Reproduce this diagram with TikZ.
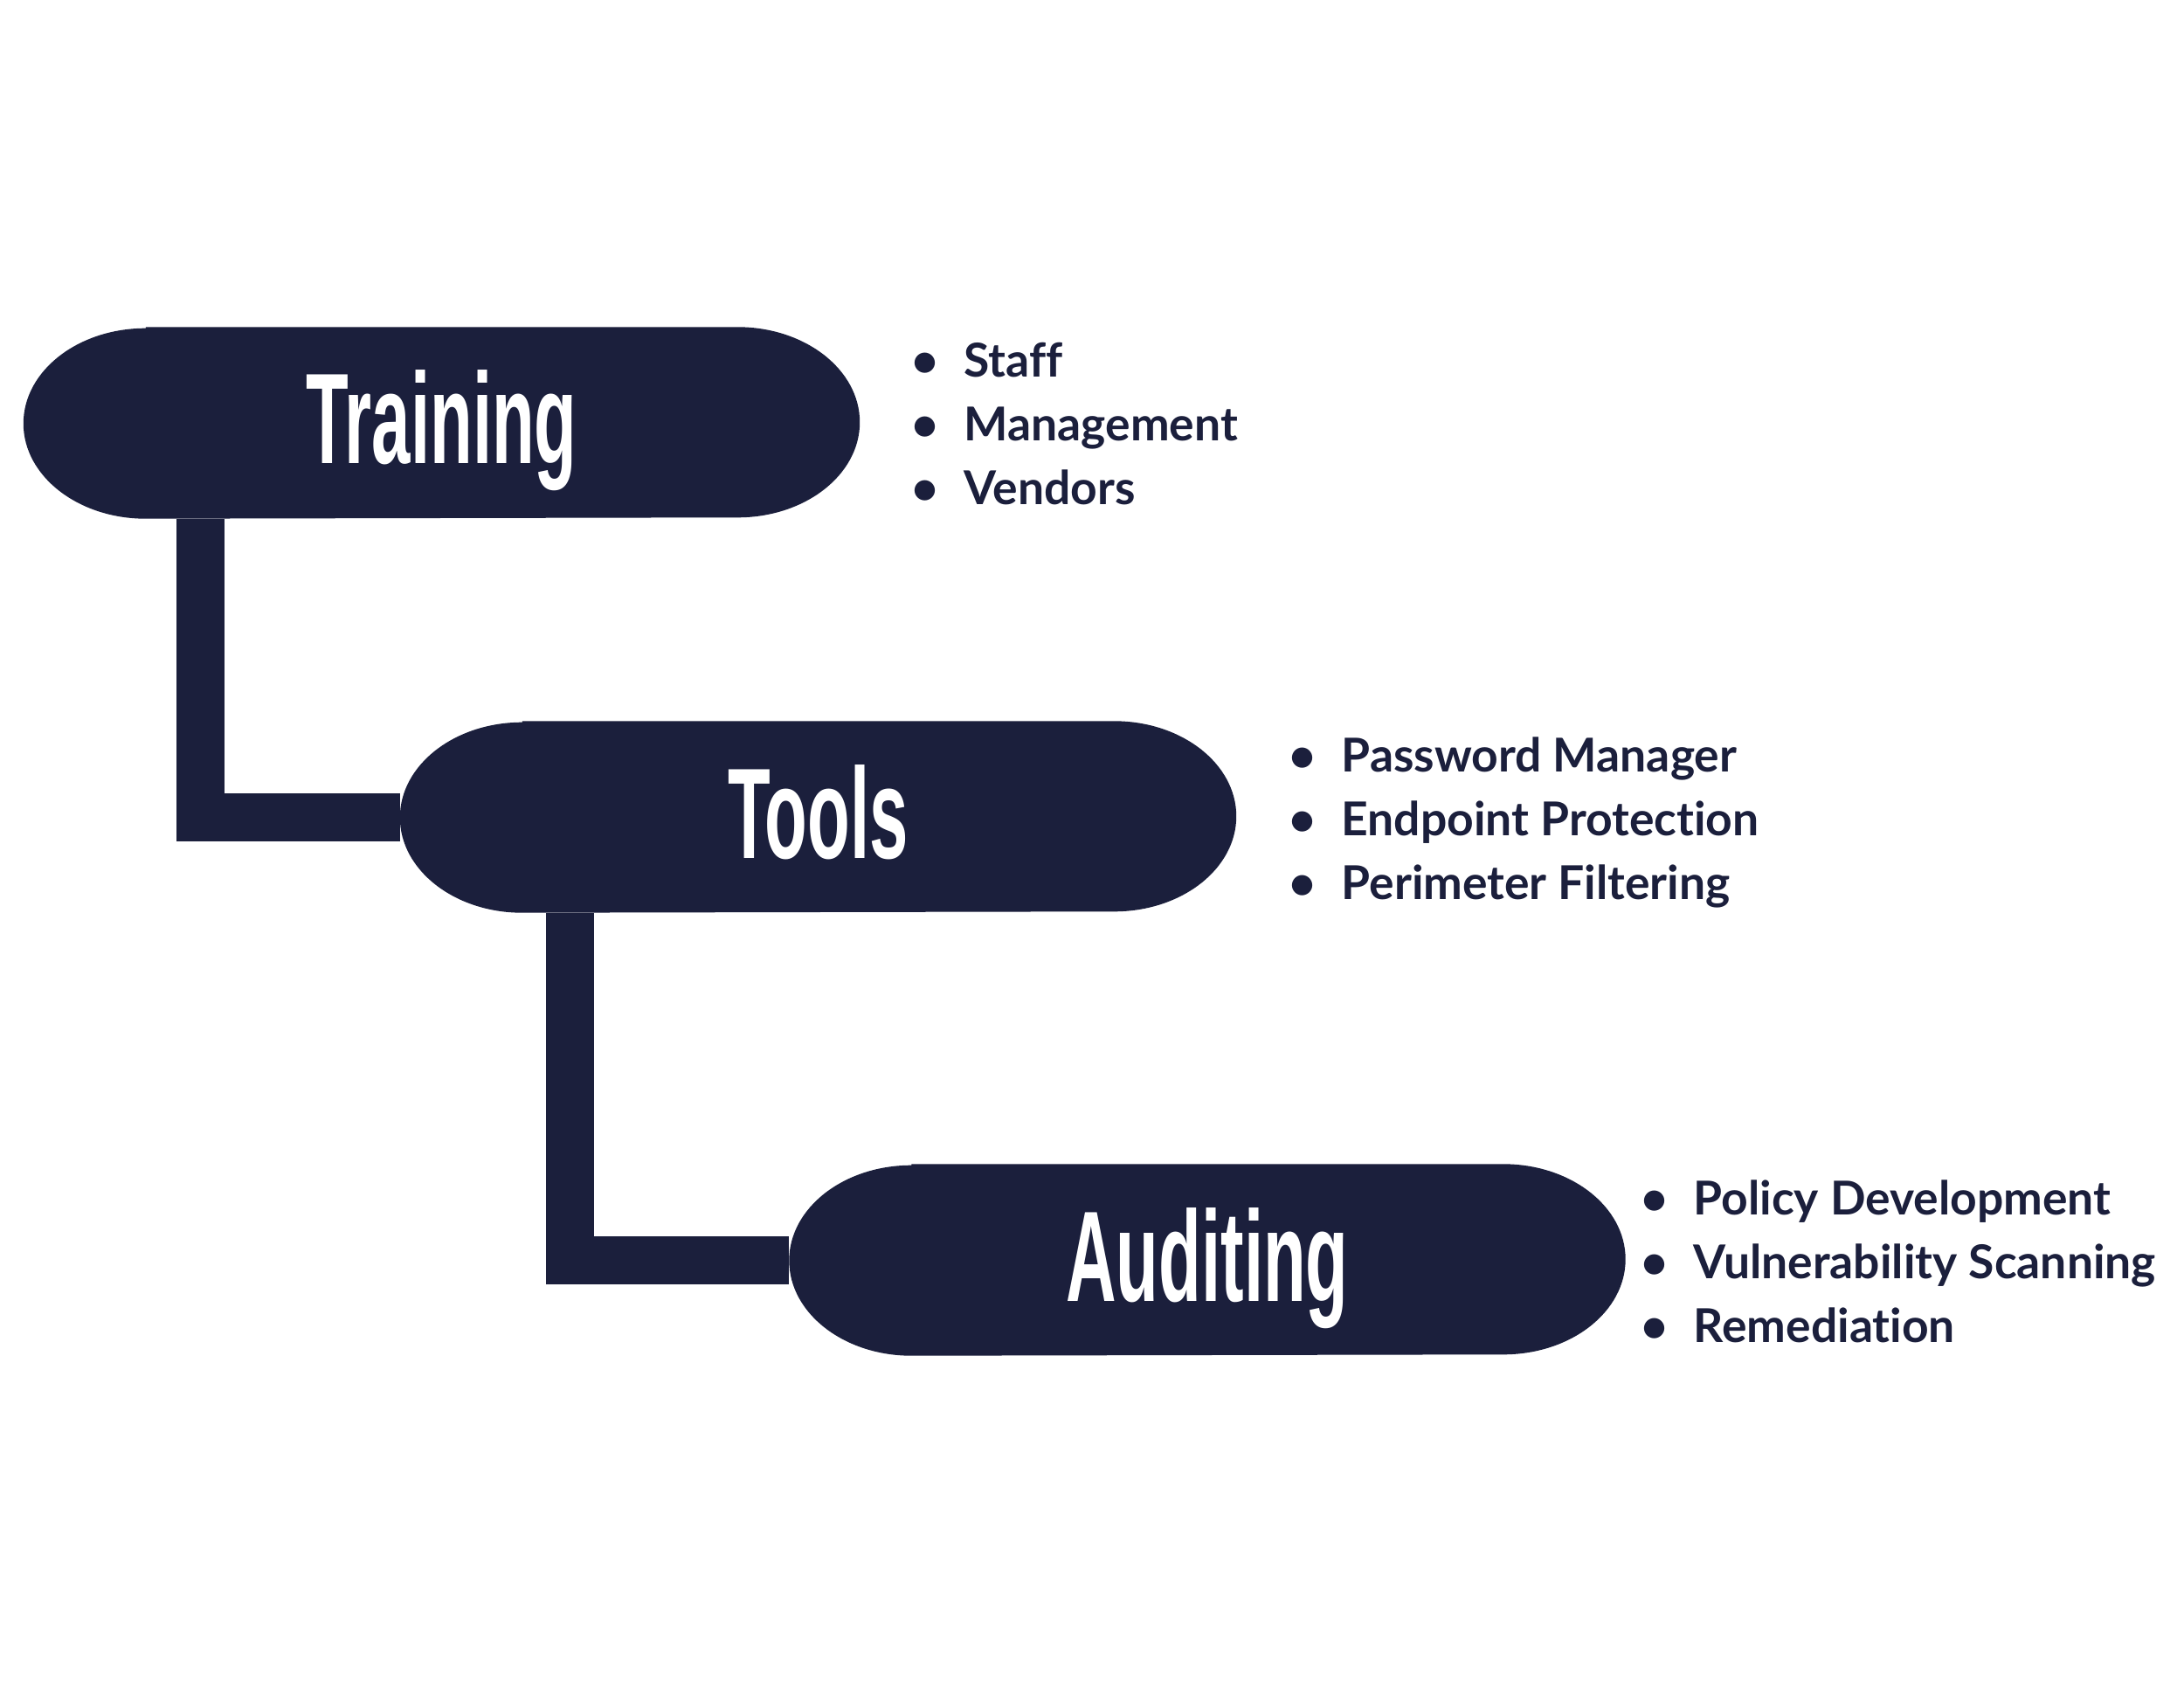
\documentclass[tikz,border=0pt]{standalone}
\usepackage{fontspec}
\setmainfont{Lato}[Ligatures=NoCommon]
\newfontfamily\pillfont{Liberation Sans}[FakeStretch=0.54]
\usetikzlibrary{backgrounds}
\definecolor{navy}{HTML}{1B1F3C}

\tikzset{
  pill/.style={rectangle, minimum width=9.56cm, minimum height=2.18cm, inner sep=0pt,
    text=white, font=\pillfont\bfseries\fontsize{42}{42}\selectfont,
    text height=1.2cm, text depth=0.26cm},
  item/.style={anchor=base west, inner sep=0pt, text=navy,
    font=\bfseries\fontsize{15.2}{18}\selectfont},
  link/.style={draw=navy, line width=0.55cm, line join=miter},
}
% pill outline with elliptic caps, drawn behind the node text
\newcommand\pillfill[1]{%
  \fill[navy] ([xshift=1.4cm]#1.north west) -- ([xshift=-1.4cm]#1.north east)
    arc[start angle=90, end angle=-90, x radius=1.4cm, y radius=1.09cm]
    -- ([xshift=1.4cm]#1.south west)
    arc[start angle=270, end angle=90, x radius=1.4cm, y radius=1.09cm] -- cycle;}
\newcommand\bul{\llap{\textbullet\hspace{0.29cm}}}

\begin{document}
\begin{tikzpicture}
    \useasboundingbox (0,0) rectangle (25,-19.32);

    \node[pill] (train) at (5.055,-4.84) {Training};
    \node[pill] (tools) at (9.365,-9.35) {Tools};
    \node[pill] (aud) at (13.82,-14.42) {Auditing};

    \node[item] (staff) at (11.03,-4.32) {\bul Staff};
    \node[item] (mgmt) at (11.03,-5.05) {\bul Management};
    \node[item] (vend) at (11.03,-5.78) {\bul Vendors};

    \node[item] (pwd) at (15.35,-8.83) {\bul Password Manager};
    \node[item] (endp) at (15.35,-9.56) {\bul Endpoint Protection};
    \node[item] (perim) at (15.35,-10.29) {\bul Perimeter Filtering};

    \node[item] (policy) at (19.38,-13.90) {\bul Policy Development};
    \node[item] (vuln) at (19.38,-14.63) {\bul Vulnerability Scanning};
    \node[item] (remed) at (19.38,-15.36) {\bul Remediation};

    \begin{scope}[on background layer]
        \pillfill{train} \pillfill{tools} \pillfill{aud}
        \draw[link] ([xshift=2.025cm]train.south west) |- (tools.west);
        \draw[link] ([xshift=1.95cm]tools.south west) |- (aud.west);
    \end{scope}
\end{tikzpicture}
\end{document}
